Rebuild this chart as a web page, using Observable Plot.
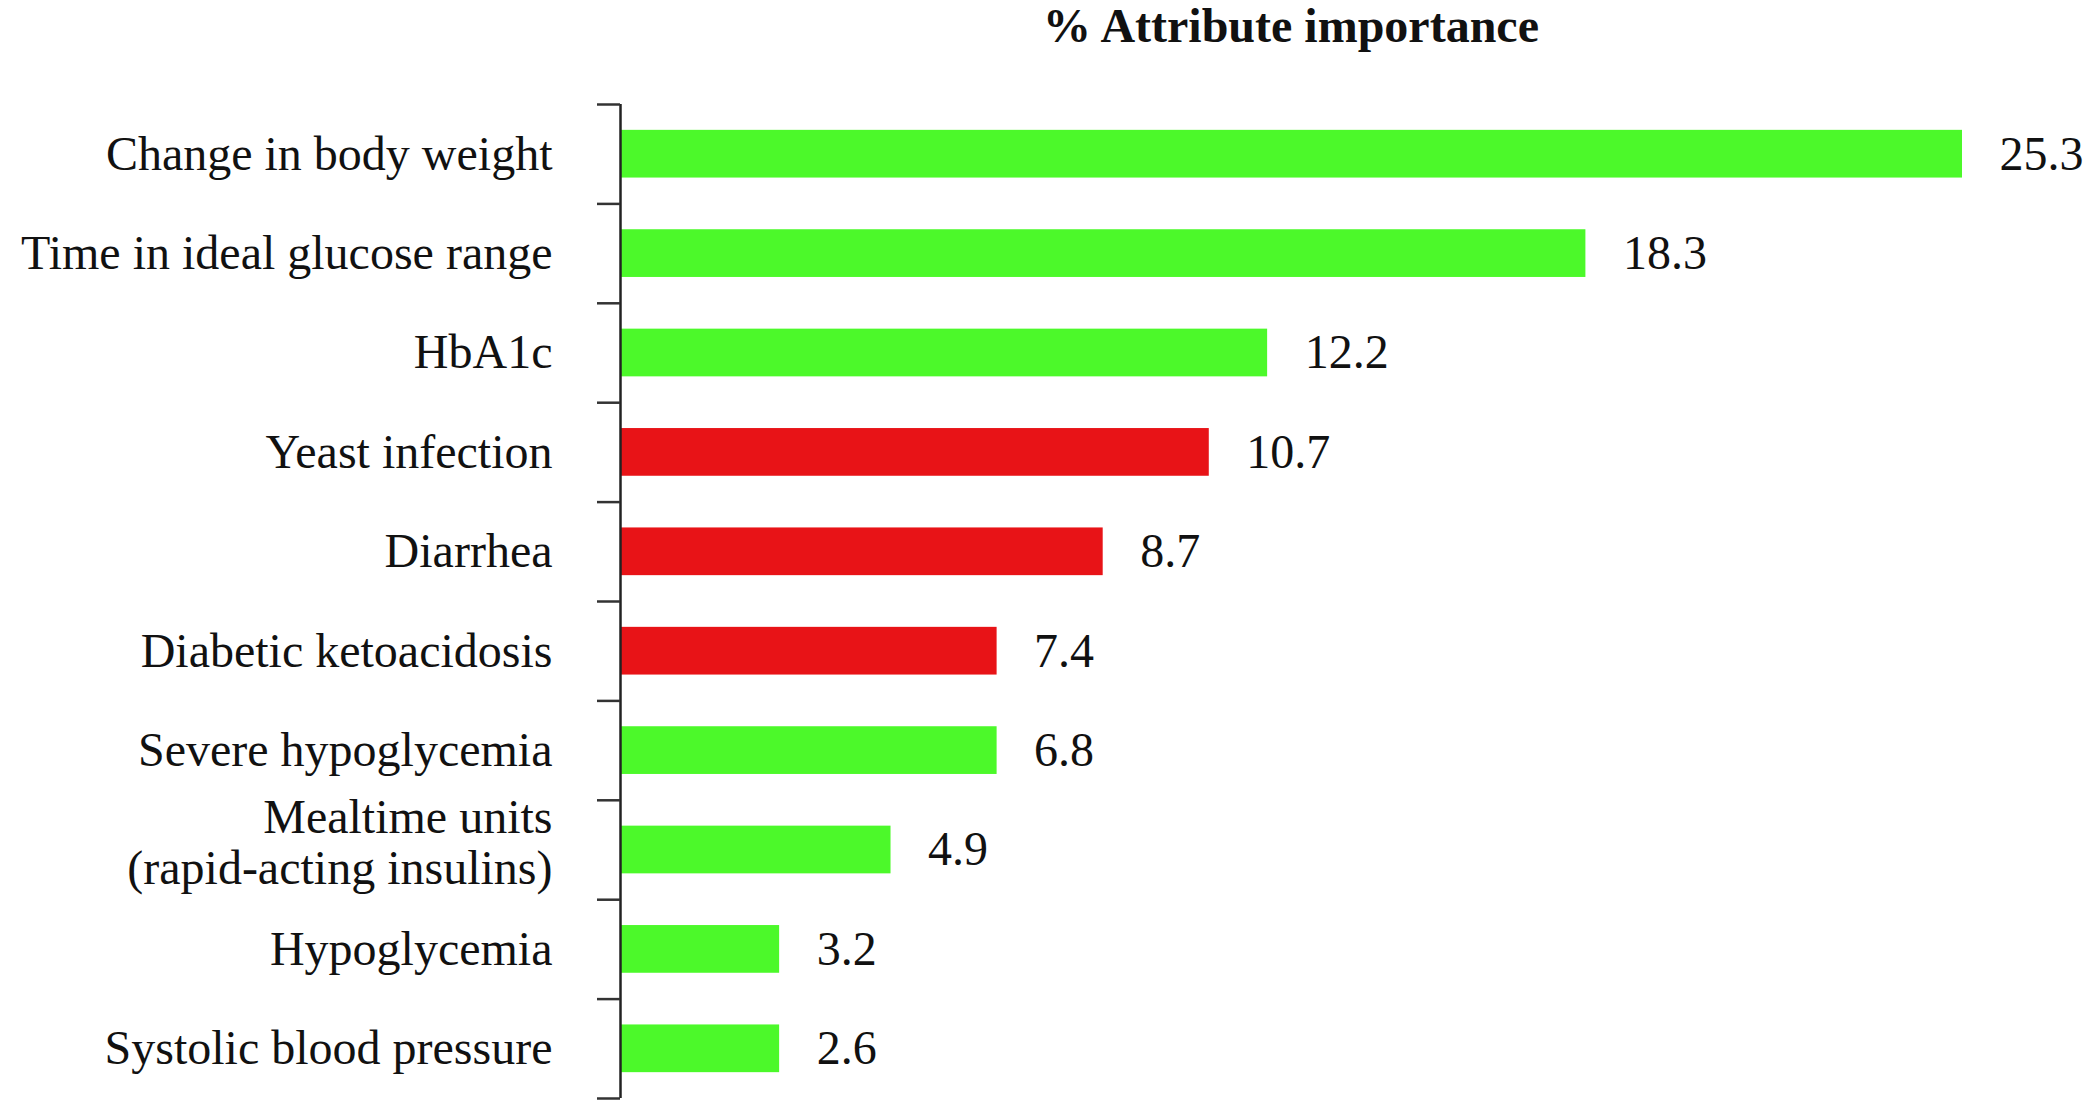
<!DOCTYPE html>
<html>
<head>
<meta charset="utf-8">
<script src="https://cdn.jsdelivr.net/npm/d3@7"></script>
<script src="https://cdn.jsdelivr.net/npm/@observablehq/plot@0.6"></script>
<style>
  html, body { margin: 0; padding: 0; background: #fff; }
  #wrap { position: relative; width: 2100px; height: 1100px; overflow: hidden; }
  #title { position: absolute; top: 0px; left: 1291px; transform: translateX(-50%);
           font-family: "Liberation Serif", "Times New Roman", serif; font-weight: bold;
           font-size: 48px; line-height: 1.1; color: #111; white-space: nowrap; }
  #chart { position: absolute; top: 60px; left: 0; }
</style>
</head>
<body>
<div id="wrap">
  <div id="title">% Attribute importance</div>
  <div id="chart"></div>
</div>
<script>
// Attributes, top to bottom
const categories = [
  "Change in body weight",
  "Time in ideal glucose range",
  "HbA1c",
  "Yeast infection",
  "Diarrhea",
  "Diabetic ketoacidosis",
  "Severe hypoglycemia",
  "Mealtime units\n(rapid-acting insulins)",
  "Hypoglycemia",
  "Systolic blood pressure"
];
// Printed value labels (% attribute importance)
const importance = [25.3, 18.3, 12.2, 10.7, 8.7, 7.4, 6.8, 4.9, 3.2, 2.6];
const barLength = [25.3, 18.2, 12.2, 11.1, 9.1, 7.1, 7.1, 5.1, 3.0, 3.0];
// Attribute kind (benefit vs. risk)
const kind = ["benefit", "benefit", "benefit", "risk", "risk", "risk", "benefit", "benefit", "benefit", "benefit"];

const data = categories.map((c, i) => ({
  i, category: c, value: importance[i], len: barLength[i], kind: kind[i]
}));

const font = '"Liberation Serif", "Times New Roman", serif';
const single = d3.range(categories.length).filter(i => !categories[i].includes("\n"));
const multi = d3.range(categories.length).filter(i => categories[i].includes("\n"));

const chart = Plot.plot({
  width: 2100,
  height: 1040,
  marginLeft: 620,
  marginRight: 138,
  marginTop: 44,
  marginBottom: 2,
  style: { fontFamily: font, background: "#fff", color: "#111" },
  x: { domain: [0, 25.3], axis: null },
  y: { domain: [0, categories.length], reverse: true, axis: null },
  color: { domain: ["benefit", "risk"], range: ["#4cf92a", "#e81317"] },
  marks: [
    Plot.rectX(data, {
      x1: 0, x2: "len",
      y1: d => d.i + 0.26, y2: d => d.i + 0.74,
      fill: "kind"
    }),
    Plot.ruleX([0], { y1: 0, y2: categories.length, stroke: "#222", strokeWidth: 2.5 }),
    Plot.axisY({
      ticks: d3.range(categories.length + 1),
      tickSize: 23,
      tickFormat: () => "",
      stroke: "#333",
      strokeWidth: 2.5
    }),
    Plot.axisY({
      ticks: single.map(i => i + 0.5),
      tickSize: 0,
      tickPadding: 68,
      tickFormat: d => categories[Math.floor(d)],
      fontSize: 48,
      fill: "#111"
    }),
    Plot.axisY({
      ticks: multi.map(i => i + 0.5),
      tickSize: 0,
      tickPadding: 68,
      tickFormat: d => categories[Math.floor(d)],
      fontSize: 48,
      lineHeight: 1.07,
      dy: -8,
      fill: "#111"
    }),
    Plot.text(data, {
      x: "len",
      y: d => d.i + 0.5,
      text: d => d.value.toFixed(1),
      dx: 37,
      textAnchor: "start",
      fontSize: 48,
      fill: "#111"
    })
  ]
});
document.getElementById("chart").appendChild(chart);
</script>
</body>
</html>
